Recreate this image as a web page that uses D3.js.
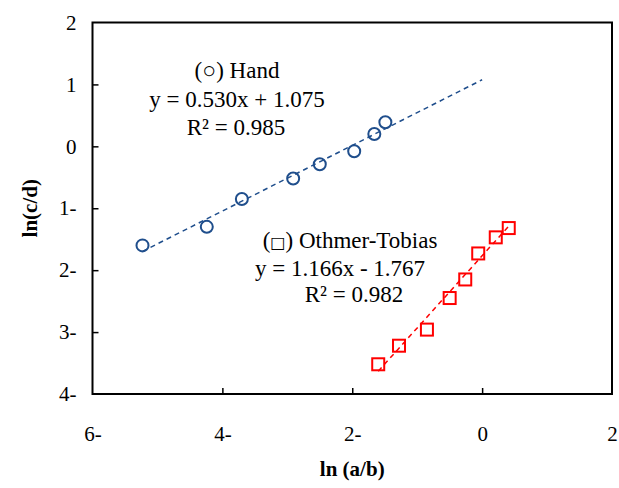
<!DOCTYPE html>
<html>
<head>
<meta charset="utf-8">
<script src="https://cdn.jsdelivr.net/npm/d3@7"></script>
<style>
  body { margin: 0; background: #fff; }
  svg text { font-family: "Liberation Serif", "Times New Roman", serif; fill: #000; }
</style>
</head>
<body>
<svg id="chart" width="619" height="488"></svg>
<script>
// Hand data (circles)
let hand_x = [-5.23, -4.24, -3.70, -2.91, -2.50, -1.97, -1.66, -1.49];
let hand_y = [-1.60, -1.30, -0.85, -0.52, -0.29, -0.08, 0.20, 0.39];
let hand_fit = {slope: 0.530, intercept: 1.075};

// Othmer-Tobias data (squares)
let ot_x = [-1.60, -1.28, -0.85, -0.50, -0.26, -0.06, 0.21, 0.41];
let ot_y = [-3.52, -3.22, -2.96, -2.45, -2.15, -1.73, -1.47, -1.32];
let ot_fit = {slope: 1.166, intercept: -1.767};

let x_ticks = [-6, -4, -2, 0, 2];
let y_ticks = [-4, -3, -2, -1, 0, 1, 2];

let width = 619;
let height = 488;
let margins = {top: 22.5, right: 7, bottom: 94, left: 92.5};

let svg = d3.select("#chart");
let plot_w = width - margins.left - margins.right;
let plot_h = height - margins.top - margins.bottom;

let x = d3.scaleLinear().domain([-6, 2]).range([margins.left, margins.left + plot_w]);
let y = d3.scaleLinear().domain([-4, 2]).range([margins.top + plot_h, margins.top]);

// minus sign shown after the number, as in the picture
let fmt = function(d) { return d < 0 ? Math.abs(d) + "-" : String(d); };

// frame
svg.append("rect")
  .attr("x", margins.left).attr("y", margins.top)
  .attr("width", plot_w).attr("height", plot_h)
  .attr("fill", "none").attr("stroke", "#000").attr("stroke-width", 2);

// X axis
let gx = svg.append("g")
  .attr("transform", "translate(0," + (margins.top + plot_h) + ")")
  .call(d3.axisTop(x).tickValues(x_ticks).tickFormat(fmt).tickSize(6).tickPadding(0));
gx.select(".domain").remove();
gx.selectAll(".tick line").attr("stroke", "#000").attr("stroke-width", 1.5);
gx.selectAll(".tick text")
  .attr("y", 47)
  .attr("font-size", 21);
gx.selectAll(".tick").filter(function(d) { return d == -6 || d == 2; }).select("line").remove();

// Y axis
let gy = svg.append("g")
  .attr("transform", "translate(" + margins.left + ",0)")
  .call(d3.axisRight(y).tickValues(y_ticks).tickFormat(fmt).tickSize(6).tickPadding(0));
gy.select(".domain").remove();
gy.selectAll(".tick line").attr("stroke", "#000").attr("stroke-width", 1.5);
gy.selectAll(".tick text")
  .attr("x", -16)
  .attr("text-anchor", "end")
  .attr("font-size", 21);
gy.selectAll(".tick").filter(function(d) { return d == -4 || d == 2; }).select("line").remove();

// axis titles
svg.append("text")
  .attr("x", margins.left + plot_w / 2).attr("y", 476)
  .attr("text-anchor", "middle")
  .attr("font-size", 21).attr("font-weight", "bold")
  .text("ln (a/b)");

svg.append("text")
  .attr("transform", "translate(37," + (margins.top + plot_h / 2) + ") rotate(-90)")
  .attr("text-anchor", "middle")
  .attr("font-size", 21).attr("font-weight", "bold")
  .text("ln(c/d)");

// trend lines
function fitLine(fit, x0, x1) {
  return [[x0, fit.slope * x0 + fit.intercept], [x1, fit.slope * x1 + fit.intercept]];
}
let line = d3.line().x(function(d) { return x(d[0]); }).y(function(d) { return y(d[1]); });

svg.append("path")
  .datum(fitLine(hand_fit, d3.min(hand_x), 0))
  .attr("d", line)
  .attr("fill", "none").attr("stroke", "#1F4E8C").attr("stroke-width", 1.5)
  .attr("stroke-dasharray", "5,4");

svg.append("path")
  .datum(fitLine(ot_fit, d3.min(ot_x), d3.max(ot_x)))
  .attr("d", line)
  .attr("fill", "none").attr("stroke", "#FF0000").attr("stroke-width", 1.5)
  .attr("stroke-dasharray", "5,4");

// circles
let hand_data = hand_x.map(function(v, i) { return {x: v, y: hand_y[i]}; });
svg.selectAll("circle.hand")
  .data(hand_data)
  .enter().append("circle")
    .classed("hand", true)
    .attr("cx", function(d) { return x(d.x); })
    .attr("cy", function(d) { return y(d.y); })
    .attr("r", 6)
    .attr("fill", "none")
    .attr("stroke", "#1F4E8C")
    .attr("stroke-width", 2);

// squares
let sq = 12;
let ot_data = ot_x.map(function(v, i) { return {x: v, y: ot_y[i]}; });
svg.selectAll("rect.ot")
  .data(ot_data)
  .enter().append("rect")
    .classed("ot", true)
    .attr("x", function(d) { return x(d.x) - sq / 2; })
    .attr("y", function(d) { return y(d.y) - sq / 2; })
    .attr("width", sq).attr("height", sq)
    .attr("fill", "none")
    .attr("stroke", "#FF0000")
    .attr("stroke-width", 2);

// annotations
let hand_labels = ["(\u25CB) Hand", "y = 0.530x + 1.075", "R\u00B2 = 0.985"];
let hand_pos = [[237, 78], [237, 107], [236, 135]];
svg.selectAll("text.hand_lab")
  .data(hand_labels)
  .enter().append("text")
    .classed("hand_lab", true)
    .attr("x", function(d, i) { return hand_pos[i][0]; })
    .attr("y", function(d, i) { return hand_pos[i][1]; })
    .attr("text-anchor", "middle")
    .attr("font-size", 23)
    .text(function(d) { return d; });

let ot_labels = ["y = 1.166x - 1.767", "R\u00B2 = 0.982"];
let ot_pos = [[340, 276], [354, 302]];

let ot_title = svg.append("text")
  .attr("x", 350).attr("y", 248)
  .attr("text-anchor", "middle")
  .attr("font-size", 23);
ot_title.append("tspan").text("(");
ot_title.append("tspan").attr("font-size", 16).attr("font-family", "DejaVu Sans").text("\u25A1");
ot_title.append("tspan").text(") Othmer-Tobias");

svg.selectAll("text.ot_lab")
  .data(ot_labels)
  .enter().append("text")
    .classed("ot_lab", true)
    .attr("x", function(d, i) { return ot_pos[i][0]; })
    .attr("y", function(d, i) { return ot_pos[i][1]; })
    .attr("text-anchor", "middle")
    .attr("font-size", 23)
    .text(function(d) { return d; });
</script>
</body>
</html>
